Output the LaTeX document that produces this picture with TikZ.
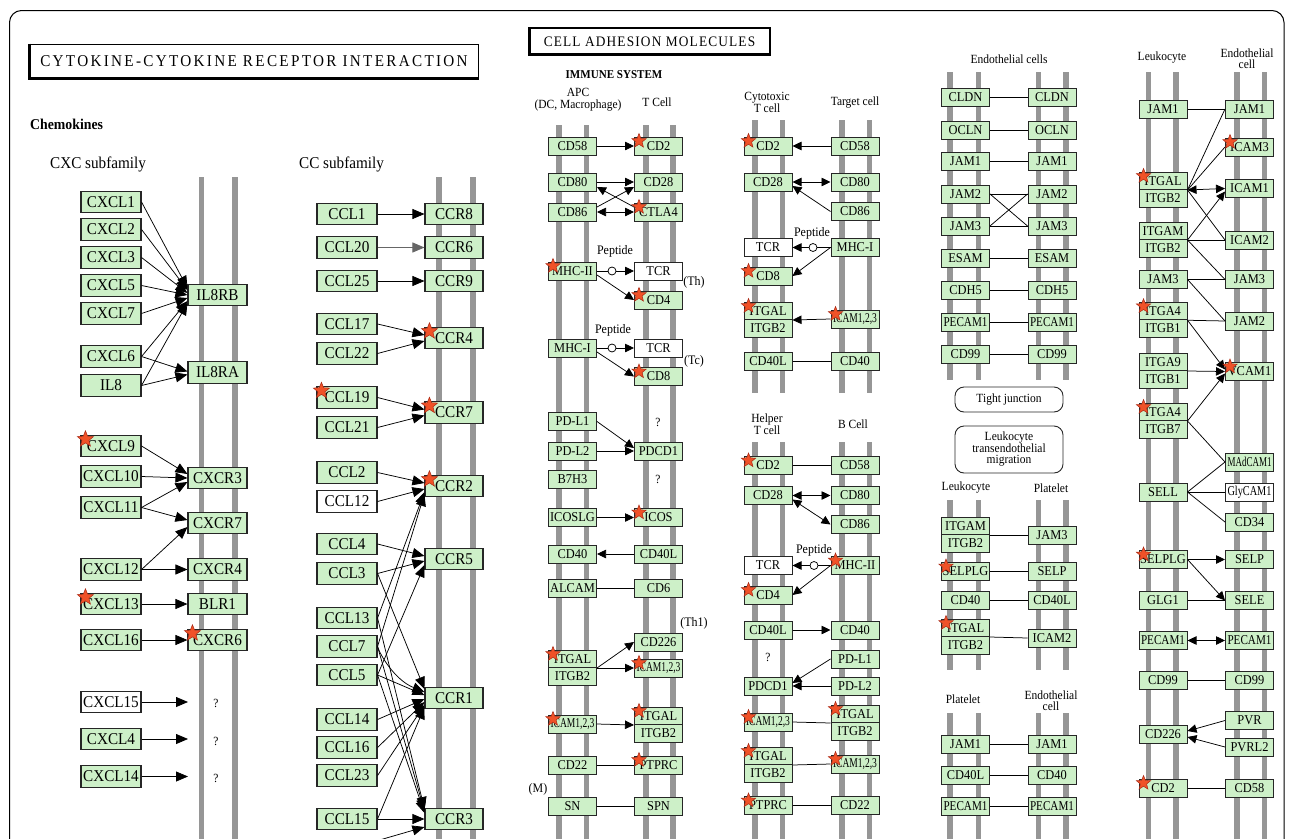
\documentclass[tikz,border=0pt]{standalone}
\usepackage{graphicx}
\usepackage{fontspec}
\setmainfont{Liberation Serif}[FakeStretch=0.92]
\newfontfamily\ttlfont{Liberation Serif}[FakeStretch=0.92,LetterSpace=14]
\newfontfamily\ttlfontb{Liberation Serif}[FakeStretch=0.92,LetterSpace=8]
\usetikzlibrary{arrows.meta,shapes.geometric}
\definecolor{boxg}{RGB}{205,240,200}
\definecolor{barg}{RGB}{150,150,150}
\definecolor{starf}{RGB}{240,82,40}
\definecolor{stard}{RGB}{170,40,20}
\newcommand{\sqz}[2][44]{\resizebox{#1pt}{\height}{#2}}
\newcommand{\mstar}[2][sts]{\node[#1] (star-#2) at ([shift={(5,4.5)}]#2.north west) {};}
\begin{document}
\begin{tikzpicture}[x=1pt,y=-1pt,
 kb/.style={draw=black!85,line width=1.1pt,fill=boxg,inner sep=0pt,minimum width=60pt,minimum height=21.5pt,font=\fontsize{16.5}{18}\selectfont},
 kr/.style={kb,minimum width=59pt},
 cb/.style={draw=black!85,line width=1pt,fill=boxg,inner sep=0pt,minimum width=48pt,minimum height=18pt,font=\fontsize{13.5}{14}\selectfont},
 ch/.style={cb,minimum height=17.5pt},
 mb/.style={draw=barg,line width=5.5pt},
 ln/.style={draw=black,line width=0.75pt},
 ar/.style={ln,-{Triangle[length=12pt,width=10pt]}},
 sa/.style={ln,-{Triangle[length=9pt,width=8.5pt]}},
 sb/.style={ln,{Triangle[length=9pt,width=8.5pt]}-{Triangle[length=9pt,width=8.5pt]}},
 st/.style={star,star points=5,star point ratio=2.3,minimum size=17pt,inner sep=0pt,fill=starf,draw=stard,line width=0.5pt},
 sts/.style={st,minimum size=15pt},
 lbl/.style={font=\fontsize{12.5}{11.5}\selectfont,inner sep=0pt,align=center},
 hd/.style={font=\fontsize{16.5}{18}\selectfont,inner sep=0pt,anchor=west},
 pep/.style={circle,draw=black,line width=0.75pt,fill=white,minimum size=8pt,inner sep=0pt},
 rbox/.style={draw=black!85,line width=0.9pt,rounded corners=9pt,minimum width=108pt,inner sep=0pt,align=center,font=\fontsize{12.5}{11.5}\selectfont},
]
\useasboundingbox (0,0) rectangle (1290,838);
\clip (0,0) rectangle (1290,838);
\fill[white] (0,0) rectangle (1290,838);
% frame
\draw[line width=1pt,rounded corners=12pt] (9.5,10.5) rectangle (1284,900);

% titles
\node[draw=black,line width=1.6pt,minimum width=449pt,minimum height=34pt,inner sep=0pt,font=\ttlfont\fontsize{16.5}{18}\selectfont] (title1) at (254,61.5) {CYTOKINE-CYTOKINE RECEPTOR INTERACTION};
\draw[line width=3pt] ([shift={(1,0)}]title1.north west) -- ([shift={(1,-1)}]title1.south west) -- ([shift={(0,-1)}]title1.south east);
\node[draw=black,line width=1.6pt,minimum width=241pt,minimum height=27pt,inner sep=0pt,font=\ttlfontb\fontsize{14.5}{16}\selectfont] (title2) at (649.5,41.5) {CELL ADHESION MOLECULES};
\draw[line width=3pt] ([shift={(1,0)}]title2.north west) -- ([shift={(1,-1)}]title2.south west) -- ([shift={(0,-1)}]title2.south east);

\node[hd,font=\bfseries\fontsize{15}{16}\selectfont] (chemo) at (30,124) {Chemokines};
\node[hd] (cxcsub) at (50,164) {CXC subfamily};
\node[hd] (ccsub) at (299,164) {CC subfamily};

% ---------- membranes
\draw[mb] (201.5,177) -- (201.5,840);
\draw[mb] (235,177) -- (235,840);
\draw[mb] (439,177) -- (439,840);
\draw[mb] (473,177) -- (473,840);
\foreach \x in {559,586.5,646,673} \draw[mb] (\x,125) -- (\x,840);
\foreach \x in {755,782.5,842,869.5} {\draw[mb] (\x,120) -- (\x,393); \draw[mb] (\x,442) -- (\x,840);}
\foreach \x in {950,978.5,1038.5,1066} {\draw[mb] (\x,72) -- (\x,380); \draw[mb] (\x,500) -- (\x,670); \draw[mb] (\x,713) -- (\x,840);}
\foreach \x in {1148.5,1176,1237,1264.5} \draw[mb] (\x,72) -- (\x,840);

% ---------- CXC
\node[kb] (cxcl1) at (111,202) {CXCL1};
\node[kb] (cxcl2) at (111,229.5) {CXCL2};
\node[kb] (cxcl3) at (111,257.5) {CXCL3};
\node[kb] (cxcl5) at (111,285.5) {CXCL5};
\node[kb] (cxcl7) at (111,313.5) {CXCL7};
\node[kb] (cxcl6) at (111,356.5) {CXCL6};
\node[kb] (il8) at (111,385.5) {IL8};
\node[kb] (cxcl9) at (111,446) {CXCL9};
\node[kb] (cxcl10) at (111,476.5) {CXCL10};
\node[kb] (cxcl11) at (111,507.5) {CXCL11};
\node[kb] (cxcl12) at (111,569.5) {CXCL12};
\node[kb] (cxcl13) at (111,604) {CXCL13};
\node[kb] (cxcl16) at (111,640) {CXCL16};
\node[kb,fill=white] (cxcl15) at (111,702) {CXCL15};
\node[kb] (cxcl4) at (111,739) {CXCL4};
\node[kb] (cxcl14) at (111,776.5) {CXCL14};
\node[kr] (il8rb) at (217.5,295) {IL8RB};
\node[kr] (il8ra) at (217.5,372.5) {IL8RA};
\node[kr] (cxcr3) at (217.5,478) {CXCR3};
\node[kr] (cxcr7) at (217.5,523) {CXCR7};
\node[kr] (cxcr4) at (217.5,569.5) {CXCR4};
\node[kr] (blr1) at (217.5,604) {BLR1};
\node[kr] (cxcr6) at (217.5,640) {CXCR6};
\node[lbl] (q1) at (216,703) {?};
\node[lbl] (q2) at (216,741) {?};
\node[lbl] (q3) at (216,778) {?};
\coordinate (q1e) at (188,702);
\coordinate (q2e) at (188,739);
\coordinate (q3e) at (188,776.5);

\draw[ar] (cxcl1.east) -- ([shift={(0,-7)}]il8rb.west);
\draw[ar] (cxcl2.east) -- ([shift={(0,-5)}]il8rb.west);
\draw[ar] (cxcl3.east) -- ([shift={(0,-2)}]il8rb.west);
\draw[ar] (cxcl5.east) -- ([shift={(0,0)}]il8rb.west);
\draw[ar] (cxcl7.east) -- ([shift={(0,3)}]il8rb.west);
\draw[ar] (cxcl6.east) -- ([shift={(0,6)}]il8rb.west);
\draw[ar] (il8.east) -- ([shift={(0,8)}]il8rb.west);
\draw[ar] (cxcl6.east) -- ([shift={(0,-1)}]il8ra.west);
\draw[ar] (il8.east) -- ([shift={(0,2)}]il8ra.west);
\draw[ar] (cxcl9.east) -- ([shift={(0,-4)}]cxcr3.west);
\draw[ar] (cxcl10.east) -- (cxcr3.west);
\draw[ar] (cxcl11.east) -- ([shift={(0,4)}]cxcr3.west);
\draw[ar] (cxcl11.east) -- ([shift={(0,-3)}]cxcr7.west);
\draw[ar] (cxcl12.east) -- ([shift={(0,4)}]cxcr7.west);
\draw[ar] (cxcl12) -- (cxcr4);
\draw[ar] (cxcl13) -- (blr1);
\draw[ar] (cxcl16) -- (cxcr6);
\draw[ar] (cxcl15.east) -- (q1e);
\draw[ar] (cxcl4.east) -- (q2e);
\draw[ar] (cxcl14.east) -- (q3e);

% ---------- CC
\node[kb] (ccl1) at (347,214) {CCL1};
\node[kb] (ccl20) at (347,247.5) {CCL20};
\node[kb] (ccl25) at (347,281) {CCL25};
\node[kb] (ccl17) at (347,324) {CCL17};
\node[kb] (ccl22) at (347,353.5) {CCL22};
\node[kb] (ccl19) at (347,397.5) {CCL19};
\node[kb] (ccl21) at (347,427.5) {CCL21};
\node[kb] (ccl2) at (347,472.5) {CCL2};
\node[kb,fill=white] (ccl12) at (347,501.5) {CCL12};
\node[kb] (ccl4) at (347,544) {CCL4};
\node[kb] (ccl3) at (347,573.5) {CCL3};
\node[kb] (ccl13) at (347,618) {CCL13};
\node[kb] (ccl7) at (347,646.5) {CCL7};
\node[kb] (ccl5) at (347,675) {CCL5};
\node[kb] (ccl14) at (347,719.5) {CCL14};
\node[kb] (ccl16) at (347,747.5) {CCL16};
\node[kb] (ccl23) at (347,775.5) {CCL23};
\node[kb] (ccl15) at (347,819) {CCL15};
\node[kr,minimum width=58pt] (ccr8) at (454,214) {CCR8};
\node[kr,minimum width=58pt] (ccr6) at (454,247.5) {CCR6};
\node[kr,minimum width=58pt] (ccr9) at (454,281) {CCR9};
\node[kr,minimum width=58pt] (ccr4) at (454,338) {CCR4};
\node[kr,minimum width=58pt] (ccr7) at (454,412.5) {CCR7};
\node[kr,minimum width=58pt] (ccr2) at (454,486) {CCR2};
\node[kr,minimum width=58pt] (ccr5) at (454,559) {CCR5};
\node[kr,minimum width=58pt] (ccr1) at (454,698) {CCR1};
\node[kr,minimum width=58pt] (ccr3) at (454,819) {CCR3};
\coordinate (ccbot) at (345,850);

\draw[ar] (ccl1) -- (ccr8);
\draw[ar,draw=black!60] (ccl20) -- (ccr6);
\draw[ar] (ccl25) -- (ccr9);
\draw[ar] (ccl17.east) -- ([shift={(0,-3)}]ccr4.west);
\draw[ar] (ccl22.east) -- ([shift={(0,3)}]ccr4.west);
\draw[ar] (ccl19.east) -- ([shift={(0,-3)}]ccr7.west);
\draw[ar] (ccl21.east) -- ([shift={(0,3)}]ccr7.west);
\draw[ar] (ccl2.east) -- ([shift={(0,-3)}]ccr2.west);
\draw[ar] (ccl12.east) -- ([shift={(0,3)}]ccr2.west);
\draw[ar] (ccl13.east) -- ([shift={(0,6)}]ccr2.west);
\draw[ar] (ccl7.east) -- ([shift={(0,8)}]ccr2.west);
\draw[ar] (ccl4.east) -- ([shift={(0,-3)}]ccr5.west);
\draw[ar] (ccl3.east) -- ([shift={(0,2)}]ccr5.west);
\draw[ar] (ccl5.east) -- ([shift={(0,6)}]ccr5.west);
\draw[ar] (ccl3.east) -- ([shift={(0,-9)}]ccr1.west);
\draw[ar] (ccl7.east) .. controls (380,655) and (395,680) .. ([shift={(0,-6)}]ccr1.west);
\draw[ar] (ccl5.east) -- ([shift={(0,-3)}]ccr1.west);
\draw[ar] (ccl14.east) -- ([shift={(0,1)}]ccr1.west);
\draw[ar] (ccl16.east) -- ([shift={(0,4)}]ccr1.west);
\draw[ar] (ccl23.east) -- ([shift={(0,7)}]ccr1.west);
\draw[ar] (ccl15.east) -- ([shift={(0,9)}]ccr1.west);
\draw[ar] (ccl13.east) -- ([shift={(0,-10)}]ccr3.west);
\draw[ar] (ccl7.east) -- ([shift={(0,-8)}]ccr3.west);
\draw[ar] (ccl5.east) -- ([shift={(0,-6)}]ccr3.west);
\draw[ar] (ccl15) -- (ccr3);
\draw[ar] (ccbot) -- ([shift={(0,8)}]ccr3.west);

% ---------- IMMUNE SYSTEM
\node[font=\bfseries\fontsize{12}{13}\selectfont,inner sep=0pt] (immune) at (614,75) {IMMUNE SYSTEM};
\node[lbl] (apc) at (578,99.5) {APC\\(DC, Macrophage)};
\node[lbl] (tcell) at (657,102) {T Cell};

\node[cb] (a-cd58) at (572.5,146) {CD58};
\node[cb] (t-cd2) at (658.5,146) {CD2};
\node[cb] (a-cd80) at (572.5,182) {CD80};
\node[cb] (t-cd28) at (658.5,182) {CD28};
\node[cb] (a-cd86) at (572.5,212) {CD86};
\node[cb] (t-ctla4) at (658.5,212) {CTLA4};
\node[cb] (a-mhc2) at (572.5,271) {MHC-II};
\node[cb,fill=white] (t-tcr1) at (658.5,271) {TCR};
\node[cb] (t-cd4) at (658.5,300) {CD4};
\node[cb] (a-mhc1) at (572.5,348) {MHC-I};
\node[cb,fill=white] (t-tcr2) at (658.5,348) {TCR};
\node[cb] (t-cd8) at (658.5,376.5) {CD8};
\node[cb] (a-pdl1) at (572.5,421.5) {PD-L1};
\node[cb] (a-pdl2) at (572.5,451) {PD-L2};
\node[cb] (t-pdcd1) at (658.5,451) {PDCD1};
\node[cb] (a-b7h3) at (572.5,479) {B7H3};
\node[cb] (a-icoslg) at (572.5,517.5) {ICOSLG};
\node[cb] (t-icos) at (658.5,517.5) {ICOS};
\node[cb] (a-cd40) at (572.5,554) {CD40};
\node[cb] (t-cd40l) at (658.5,554) {CD40L};
\node[cb] (a-alcam) at (572.5,588.5) {ALCAM};
\node[cb] (t-cd6) at (658.5,588.5) {CD6};
\node[cb] (t-cd226) at (658.5,642) {CD226};
\node[ch] (a-itgal) at (572.5,658.75) {ITGAL};
\node[ch] (a-itgb2) at (572.5,676.25) {ITGB2};
\node[cb] (t-icam) at (658.5,668) {\sqz{ICAM1,2,3}};
\node[cb] (a-icam) at (572.5,724) {\sqz{ICAM1,2,3}};
\node[ch] (t-itgal) at (658.5,715.75) {ITGAL};
\node[ch] (t-itgb2) at (658.5,733.25) {ITGB2};
\node[cb] (a-cd22) at (572.5,765) {CD22};
\node[cb] (t-ptprc) at (658.5,765) {PTPRC};
\node[cb] (a-sn) at (572.5,806) {SN};
\node[cb] (t-spn) at (658.5,806) {SPN};
\node[lbl,font=\fontsize{13}{14}\selectfont] (pepl1) at (615,251) {Peptide};
\node[lbl,font=\fontsize{13}{14}\selectfont] (pepl2) at (613,330) {Peptide};
\node[pep] (pc1) at (612,271) {};
\node[pep] (pc2) at (612,348) {};
\node[lbl,font=\fontsize{13}{14}\selectfont] (th) at (694,282) {(Th)};
\node[lbl,font=\fontsize{13}{14}\selectfont] (tc) at (694,361) {(Tc)};
\node[lbl] (qa1) at (658,422) {?};
\node[lbl] (qa2) at (658,479) {?};
\node[lbl,font=\fontsize{13}{14}\selectfont] (th1) at (694,623) {(Th1)};
\node[lbl,font=\fontsize{13}{14}\selectfont] (mm) at (538,789) {(M)};

\draw[sa] (a-cd58) -- (t-cd2);
\draw[sa] (a-cd80) -- (t-cd28);
\draw[sa] ([shift={(0,-5)}]a-cd86.east) -- ([shift={(0,5)}]t-cd28.west);
\draw[sa] ([shift={(0,-5)}]t-ctla4.west) -- ([shift={(0,5)}]a-cd80.east);
\draw[sb] (a-cd86) -- (t-ctla4);
\draw[ln] (a-mhc2) -- (pc1);
\draw[sa] (pc1) -- (t-tcr1);
\draw[sa] ([shift={(0,4)}]a-mhc2.east) -- (t-cd4.west);
\draw[ln] (a-mhc1) -- (pc2);
\draw[sa] (pc2) -- (t-tcr2);
\draw[sa] ([shift={(0,4)}]a-mhc1.east) -- (t-cd8.west);
\draw[sa] (a-pdl1.east) -- ([shift={(0,-3)}]t-pdcd1.west);
\draw[sa] (a-pdl2) -- (t-pdcd1);
\draw[sa] (a-icoslg) -- (t-icos);
\draw[sa] (t-cd40l) -- (a-cd40);
\draw[ln] (a-alcam) -- (t-cd6);
\draw[sa] (a-itgal.south east) -- (t-cd226.west);
\draw[sa] (a-itgal.south east) -- (t-icam.west);
\draw[sa] (a-icam.east) -- (t-itgal.south west);
\draw[ln] (a-cd22) -- (t-ptprc);
\draw[ln] (a-sn) -- (t-spn);

% ---------- Cytotoxic / target
\node[lbl] (cytl) at (767,102.5) {Cytotoxic\\T cell};
\node[lbl] (targl) at (855,103) {Target cell};
\node[cb] (c-cd2) at (768,146) {CD2};
\node[cb] (g-cd58) at (855,146) {CD58};
\node[cb] (c-cd28) at (768,182) {CD28};
\node[cb] (g-cd80) at (855,182) {CD80};
\node[cb] (g-cd86) at (855,211.5) {CD86};
\node[cb,fill=white] (c-tcr) at (768,247.5) {TCR};
\node[cb] (g-mhc1) at (855,247.5) {MHC-I};
\node[cb] (c-cd8) at (768,276) {CD8};
\node[ch] (c-itgal) at (768,310.75) {ITGAL};
\node[ch] (c-itgb2) at (768,328.25) {ITGB2};
\node[cb] (g-icam) at (855,319) {\sqz{ICAM1,2,3}};
\node[cb] (c-cd40l) at (768,361) {CD40L};
\node[cb] (g-cd40) at (855,361) {CD40};
\node[lbl,font=\fontsize{13}{14}\selectfont] (pepl3) at (812,233) {Peptide};
\node[pep] (pc3) at (813,247.5) {};
\draw[sa] (g-cd58) -- (c-cd2);
\draw[sb] (c-cd28) -- (g-cd80);
\draw[sa] (g-cd86.west) -- ([shift={(0,4)}]c-cd28.east);
\draw[ln] (g-mhc1) -- (pc3);
\draw[sa] (pc3) -- (c-tcr);
\draw[sa] (g-mhc1.west) -- (c-cd8.east);
\draw[sa] (g-icam.west) -- (c-itgal.south east);
\draw[ln] (c-cd40l) -- (g-cd40);

% ---------- Helper / B cell
\node[lbl] (helpl) at (767,424) {Helper\\T cell};
\node[lbl] (bcl) at (853,424) {B Cell};
\node[cb] (h-cd2) at (768,465.5) {CD2};
\node[cb] (bc-cd58) at (855,465.5) {CD58};
\node[cb] (h-cd28) at (768,495.5) {CD28};
\node[cb] (bc-cd80) at (855,495.5) {CD80};
\node[cb] (bc-cd86) at (855,524.5) {CD86};
\node[cb,fill=white] (h-tcr) at (768,565.5) {TCR};
\node[cb] (bc-mhc2) at (855,565.5) {MHC-II};
\node[cb] (h-cd4) at (768,595) {CD4};
\node[cb] (h-cd40l) at (768,630) {CD40L};
\node[cb] (bc-cd40) at (855,630) {CD40};
\node[lbl] (qh) at (768,657) {?};
\node[cb] (bc-pdl1) at (855,659) {PD-L1};
\node[cb] (h-pdcd1) at (768,686) {PDCD1};
\node[cb] (bc-pdl2) at (855,686) {PD-L2};
\node[cb] (h-icam) at (768,722) {\sqz{ICAM1,2,3}};
\node[ch] (bc-itgal) at (855,713.75) {ITGAL};
\node[ch] (bc-itgb2) at (855,731.25) {ITGB2};
\node[ch] (h-itgal) at (768,755.75) {ITGAL};
\node[ch] (h-itgb2) at (768,773.25) {ITGB2};
\node[cb] (bc-icam) at (855,764) {\sqz{ICAM1,2,3}};
\node[cb] (h-ptprc) at (768,805.5) {PTPRC};
\node[cb] (bc-cd22) at (855,805.5) {CD22};
\node[lbl,font=\fontsize{13}{14}\selectfont] (pepl4) at (814,550) {Peptide};
\node[pep] (pc4) at (814,565.5) {};
\draw[ln] (h-cd2) -- (bc-cd58);
\draw[sb] (h-cd28) -- (bc-cd80);
\draw[sb] ([shift={(0,4)}]h-cd28.east) -- (bc-cd86.west);
\draw[ln] (bc-mhc2) -- (pc4);
\draw[sa] (pc4) -- (h-tcr);
\draw[sa] (bc-mhc2.west) -- (h-cd4.east);
\draw[sa] (h-cd40l) -- (bc-cd40);
\draw[sa] (bc-pdl1.west) -- ([shift={(0,-3)}]h-pdcd1.east);
\draw[sa] (bc-pdl2) -- (h-pdcd1);
\draw[ln] (h-icam.east) -- (bc-itgal.south west);
\draw[ln] (h-itgal.south east) -- (bc-icam.west);
\draw[ln] (h-ptprc) -- (bc-cd22);

% ---------- Endothelial cells
\node[lbl] (endol) at (1009,59) {Endothelial cells};
\node[cb] (e1-cldn) at (965.5,97.5) {CLDN};
\node[cb] (e2-cldn) at (1052,97.5) {CLDN};
\node[cb] (e1-ocln) at (965.5,130) {OCLN};
\node[cb] (e2-ocln) at (1052,130) {OCLN};
\node[cb] (e1-jam1) at (965.5,161.5) {JAM1};
\node[cb] (e2-jam1) at (1052,161.5) {JAM1};
\node[cb] (e1-jam2) at (965.5,194) {JAM2};
\node[cb] (e2-jam2) at (1052,194) {JAM2};
\node[cb] (e1-jam3) at (965.5,226) {JAM3};
\node[cb] (e2-jam3) at (1052,226) {JAM3};
\node[cb] (e1-esam) at (965.5,258.5) {ESAM};
\node[cb] (e2-esam) at (1052,258.5) {ESAM};
\node[cb] (e1-cdh5) at (965.5,290) {CDH5};
\node[cb] (e2-cdh5) at (1052,290) {CDH5};
\node[cb] (e1-pecam) at (965.5,322.5) {\sqz{PECAM1}};
\node[cb] (e2-pecam) at (1052,322.5) {\sqz{PECAM1}};
\node[cb] (e1-cd99) at (965.5,354) {CD99};
\node[cb] (e2-cd99) at (1052,354) {CD99};
\foreach \n in {cldn,ocln,jam1,jam2,jam3,esam,cdh5,pecam,cd99} \draw[ln] (e1-\n) -- (e2-\n);
\draw[ln] (e1-jam2.east) -- (e2-jam3.west);
\draw[ln] (e1-jam3.east) -- (e2-jam2.west);
\node[rbox,minimum height=25pt] (tj) at (1009,399.5) {Tight junction};
\node[rbox,minimum height=47pt] (ltm) at (1009,449.5) {Leukocyte\\transendothelial\\migration};

\node[lbl] (leul) at (966,488) {Leukocyte};
\node[lbl] (platl) at (1051,488) {Platelet};
\node[ch] (l-itgam) at (965.5,525.75) {ITGAM};
\node[ch] (l-itgb2a) at (965.5,543.25) {ITGB2};
\node[cb] (p-jam3) at (1052,535) {JAM3};
\node[cb] (l-selplg) at (965.5,571.5) {SELPLG};
\node[cb] (p-selp) at (1052,571.5) {SELP};
\node[cb] (l-cd40) at (965.5,600.5) {CD40};
\node[cb] (p-cd40l) at (1052,600.5) {CD40L};
\node[ch] (l-itgal) at (965.5,627.75) {ITGAL};
\node[ch] (l-itgb2b) at (965.5,645.25) {ITGB2};
\node[cb] (p-icam2) at (1052,638) {ICAM2};
\draw[ln] (l-itgam.south east) -- (p-jam3.west);
\draw[ln] (l-selplg) -- (p-selp);
\draw[ln] (l-cd40) -- (p-cd40l);
\draw[ln] (l-itgal.south east) -- (p-icam2.west);

\node[lbl] (platl2) at (963,699) {Platelet};
\node[lbl] (endol2) at (1051,700.5) {Endothelial\\cell};
\node[cb] (p2-jam1) at (965.5,744) {JAM1};
\node[cb] (e3-jam1) at (1052,744) {JAM1};
\node[cb] (p2-cd40l) at (965.5,775.5) {CD40L};
\node[cb] (e3-cd40) at (1052,775.5) {CD40};
\node[cb] (p2-pecam) at (965.5,806) {\sqz{PECAM1}};
\node[cb] (e3-pecam) at (1052,806) {\sqz{PECAM1}};
\draw[ln] (p2-jam1) -- (e3-jam1);
\draw[ln] (p2-cd40l) -- (e3-cd40);
\draw[ln] (p2-pecam) -- (e3-pecam);

% ---------- right column
\node[lbl] (leul2) at (1162,58) {Leukocyte};
\node[lbl] (endol3) at (1247,58.5) {Endothelial\\cell};
\node[cb] (r-jam1) at (1163,109) {JAM1};
\node[cb] (s-jam1) at (1249.5,109) {JAM1};
\node[cb] (s-icam3) at (1249.5,147) {ICAM3};
\node[ch] (r-itgal) at (1163,180.75) {ITGAL};
\node[ch] (r-itgb2a) at (1163,198.25) {ITGB2};
\node[cb] (s-icam1) at (1249.5,188.5) {ICAM1};
\node[ch] (r-itgam) at (1163,230.75) {ITGAM};
\node[ch] (r-itgb2b) at (1163,248.25) {ITGB2};
\node[cb] (s-icam2) at (1249.5,240) {ICAM2};
\node[cb] (r-jam3) at (1163,279.5) {JAM3};
\node[cb] (s-jam3) at (1249.5,279.5) {JAM3};
\node[ch] (r-itga4a) at (1163,311) {ITGA4};
\node[ch] (r-itgb1a) at (1163,328.5) {ITGB1};
\node[cb] (s-jam2) at (1249.5,321) {JAM2};
\node[ch] (r-itga9) at (1163,361.75) {ITGA9};
\node[ch] (r-itgb1b) at (1163,379.25) {ITGB1};
\node[cb] (s-vcam1) at (1249.5,371.5) {VCAM1};
\node[ch] (r-itga4b) at (1163,411.75) {ITGA4};
\node[ch] (r-itgb7) at (1163,429.25) {ITGB7};
\node[cb] (s-madcam) at (1249.5,462) {\sqz{MAdCAM1}};
\node[cb] (r-sell) at (1163,492) {SELL};
\node[cb,fill=white] (s-glycam) at (1249.5,492) {\sqz{GlyCAM1}};
\node[cb] (s-cd34) at (1249.5,522) {CD34};
\node[cb] (r-selplg) at (1163,559.5) {SELPLG};
\node[cb] (s-selp) at (1249.5,559.5) {SELP};
\node[cb] (r-glg1) at (1163,600.5) {GLG1};
\node[cb] (s-sele) at (1249.5,600.5) {SELE};
\node[cb] (r-pecam) at (1163,640.5) {\sqz{PECAM1}};
\node[cb] (s-pecam) at (1249.5,640.5) {\sqz{PECAM1}};
\node[cb] (r-cd99) at (1163,680.5) {CD99};
\node[cb] (s-cd99) at (1249.5,680.5) {CD99};
\node[cb] (s-pvr) at (1249.5,720.5) {PVR};
\node[cb] (r-cd226) at (1163,734) {CD226};
\node[cb] (s-pvrl2) at (1249.5,747) {PVRL2};
\node[cb] (r-cd2) at (1163,788) {CD2};
\node[cb] (s-cd58) at (1249.5,788) {CD58};

\draw[ln] (r-jam1) -- (s-jam1);
\draw[ln] (r-itgal.south east) -- (s-jam1.west);
\draw[ln] (r-itgal.south east) -- (s-icam3.west);
\draw[sb] (r-itgal.south east) -- (s-icam1.west);
\draw[ln] (r-itgal.south east) -- (s-icam2.west);
\draw[sa] (r-itgam.south east) -- ([shift={(0,3)}]s-icam1.west);
\draw[ln] (r-itgam.south east) -- (s-icam2.west);
\draw[ln] (r-itgam.south east) -- (s-jam3.west);
\draw[ln] (r-jam3) -- (s-jam3);
\draw[ln] (r-jam3.east) -- (s-jam2.west);
\draw[ln] (r-itga4a.south east) -- (s-jam2.west);
\draw[sa] (r-itga4a.south east) -- ([shift={(0,-2)}]s-vcam1.west);
\draw[sa] (r-itga9.south east) -- (s-vcam1.west);
\draw[sa] (r-itga4b.south east) -- ([shift={(0,2)}]s-vcam1.west);
\draw[ln] (r-itga4b.south east) -- (s-madcam.west);
\draw[ln] (r-sell.east) -- (s-madcam.west);
\draw[ln] (r-sell) -- (s-glycam);
\draw[ln] (r-sell.east) -- (s-cd34.west);
\draw[sa] (r-selplg) -- (s-selp);
\draw[sa] (r-selplg.east) -- (s-sele.west);
\draw[ln] (r-glg1) -- (s-sele);
\draw[sb] (r-pecam) -- (s-pecam);
\draw[ln] (r-cd99) -- (s-cd99);
\draw[sa] (s-pvr.west) -- ([shift={(0,-3)}]r-cd226.east);
\draw[sa] (s-pvrl2.west) -- ([shift={(0,3)}]r-cd226.east);
\draw[ln] (r-cd2) -- (s-cd58);

% ---------- stars
\mstar[st]{cxcl9}
\mstar[st]{cxcl13}
\mstar[st]{cxcr6}
\mstar[st]{ccr4}
\mstar[st]{ccl19}
\mstar[st]{ccr7}
\mstar[st]{ccr2}
\foreach \s in {t-cd2,t-ctla4,a-mhc2,t-cd4,t-cd8,t-icos,a-itgal,t-icam,a-icam,t-itgal,t-ptprc,
 c-cd2,c-cd8,c-itgal,g-icam,h-cd2,bc-mhc2,h-cd4,h-icam,bc-itgal,h-itgal,bc-icam,h-ptprc,
 l-selplg,l-itgal,s-icam3,r-itgal,r-itga4a,s-vcam1,r-itga4b,r-selplg,r-cd2} {\mstar{\s}}
\end{tikzpicture}
\end{document}
